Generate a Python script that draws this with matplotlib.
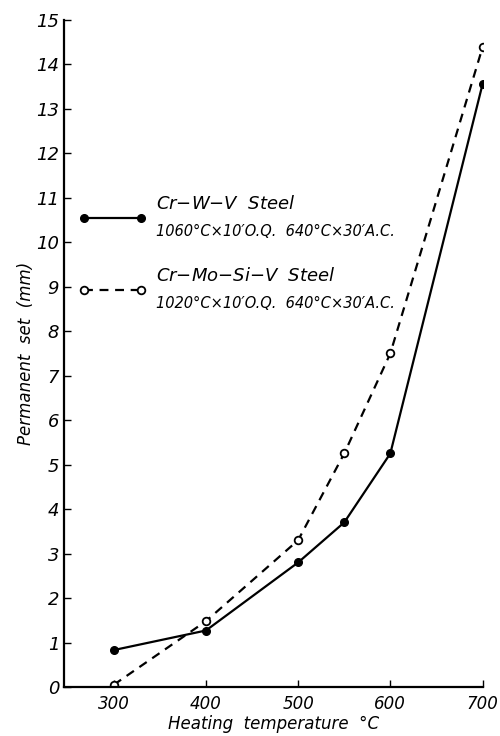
import matplotlib.pyplot as plt

# data
temps = [300, 400, 500, 550, 600, 700]
crwv_set = [0.83, 1.27, 2.8, 3.7, 5.25, 13.55]
crmosiv_set = [0.05, 1.48, 3.3, 5.25, 7.5, 14.38]

crwv_name = "Cr$-$W$-$V  Steel"
crwv_treat = "1060°C×10′O.Q.  640°C×30′A.C."
crmosiv_name = "Cr$-$Mo$-$Si$-$V  Steel"
crmosiv_treat = "1020°C×10′O.Q.  640°C×30′A.C."

x_ticks = [300, 400, 500, 600, 700]
y_ticks = list(range(0, 16))

plt.rcParams['font.family'] = ['Liberation Sans Narrow', 'DejaVu Sans']
plt.rcParams['font.style'] = 'italic'
plt.rcParams['mathtext.default'] = 'it'

fig = plt.figure(figsize=(5, 7.36), dpi=100)
ax = fig.add_axes([0.128, 0.0666, 0.837, 0.9064])

ax.plot(temps, crwv_set, color='black', lw=1.6, marker='o', ms=5.5,
        mfc='black', mec='black')
ax.plot(temps, crmosiv_set, color='black', lw=1.6, ls=(0, (4, 3)), marker='o',
        ms=5.5, mfc='white', mec='black', mew=1.3)

ax.set_xlim(246, 700)
ax.set_ylim(0, 15)
ax.set_xticks(x_ticks)
ax.set_yticks(y_ticks)
ax.tick_params(direction='in', length=5, width=1, labelsize=13)
ax.tick_params(axis='x', pad=6, labelsize=12)
for s in ['top', 'right']:
    ax.spines[s].set_visible(False)
for s in ['left', 'bottom']:
    ax.spines[s].set_linewidth(1.6)

ax.set_xlabel("Heating  temperature  °C", fontsize=12, labelpad=1)
ax.set_ylabel("Permanent  set  (mm)", fontsize=12, labelpad=1)

# hand-drawn style legend
ax.plot([268, 330], [10.55, 10.55], color='black', lw=1.6, marker='o', ms=5.5)
ax.plot([268, 330], [8.93, 8.93], color='black', lw=1.6, ls=(0, (4, 3)),
        marker='o', ms=5.5, mfc='white', mew=1.3)
ax.text(346, 10.85, crwv_name, fontsize=13, va='center')
ax.text(346, 10.25, crwv_treat, fontsize=10.5, va='center')
ax.text(346, 9.25, crmosiv_name, fontsize=13, va='center')
ax.text(346, 8.62, crmosiv_treat, fontsize=10.5, va='center')

fig.savefig('out.png', dpi=100)
